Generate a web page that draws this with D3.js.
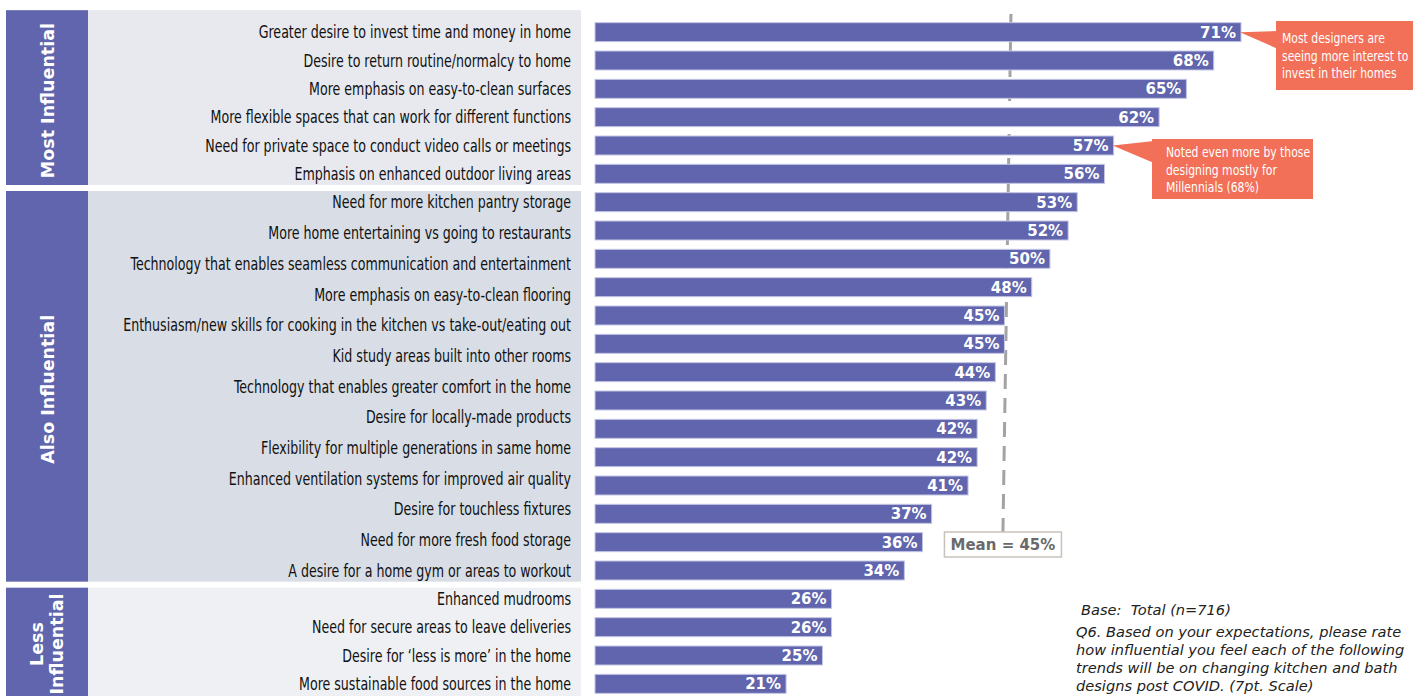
<!DOCTYPE html>
<html lang="en">
<head>
    <meta charset="UTF-8">
    <script src="https://cdn.jsdelivr.net/npm/d3@7"></script>
    <style>
        body { margin: 0; background: #fff; }
        svg { display: block; }
        .label { font-family: "DejaVu Sans", sans-serif; font-stretch: condensed; font-size: 18px; fill: #111; }
        .value { font-family: "DejaVu Sans", sans-serif; font-weight: bold; font-size: 15px; fill: #fff; }
        .group { font-family: "DejaVu Sans", sans-serif; font-weight: bold; font-size: 17.5px; fill: #fff; }
        .note { font-family: "DejaVu Sans", sans-serif; font-stretch: condensed; font-size: 14px; fill: #fff; }
        .foot { font-family: "DejaVu Sans", sans-serif; font-style: italic; font-size: 14.6px; fill: #222; white-space: pre; }
        .mean { font-family: "DejaVu Sans", sans-serif; font-weight: bold; font-size: 15px; fill: #6a6a6a; }
    </style>
</head>
<body>
<svg width="1413" height="696"></svg>
<script>
    // data
    var groupNames = ["Most Influential", "Also Influential", "Less Influential"];
    var mostLabels = [
        "Greater desire to invest time and money in home",
        "Desire to return routine/normalcy to home",
        "More emphasis on easy-to-clean surfaces",
        "More flexible spaces that can work for different functions",
        "Need for private space to conduct video calls or meetings",
        "Emphasis on enhanced outdoor living areas"
    ];
    var alsoLabels = [
        "Need for more kitchen pantry storage",
        "More home entertaining vs going to restaurants",
        "Technology that enables seamless communication and entertainment",
        "More emphasis on easy-to-clean flooring",
        "Enthusiasm/new skills for cooking in the kitchen vs take-out/eating out",
        "Kid study areas built into other rooms",
        "Technology that enables greater comfort in the home",
        "Desire for locally-made products",
        "Flexibility for multiple generations in same home",
        "Enhanced ventilation systems for improved air quality",
        "Desire for touchless fixtures",
        "Need for more fresh food storage",
        "A desire for a home gym or areas to workout"
    ];
    var lessLabels = [
        "Enhanced mudrooms",
        "Need for secure areas to leave deliveries",
        "Desire for \u2018less is more\u2019 in the home",
        "More sustainable food sources in the home"
    ];
    var mostValues = [71, 68, 65, 62, 57, 56];
    var alsoValues = [53, 52, 50, 48, 45, 45, 44, 43, 42, 42, 41, 37, 36, 34];
    var lessValues = [26, 26, 25, 21];
    var meanValue = 45;
    var note1 = ["Most designers are", "seeing more interest to", "invest in their homes"];
    var note2 = ["Noted even more by those", "designing mostly for", "Millennials (68%)"];
    var baseLine = "Base:  Total (n=716)";
    var footLines = [
        "Q6. Based on your expectations, please rate",
        "how influential you feel each of the following",
        "trends will be on changing kitchen and bath",
        "designs post COVID. (7pt. Scale)"
    ];

    var purple = "#6065ad";
    var coral = "#f26f58";
    var panelFill = ["#e7e9ef", "#d8dde6", "#eef0f4"];
    var narrow = 0.78;   // condensed face squeezed a bit more, like the original

    var svg = d3.select("svg");

    var labelSets = [mostLabels, alsoLabels, lessLabels];
    var valueSets = [mostValues, alsoValues, lessValues];
    var rows = [];
    valueSets.forEach(function (vals, g) {
        vals.forEach(function (v) { rows.push({g: g, v: v}); });
    });
    rows.forEach(function (d, i) { d.i = i; });

    var y = d3.scaleBand()
        .domain(d3.range(rows.length))
        .range([18, 698])
        .paddingInner(0.33)
        .paddingOuter(0.165);
    var x = d3.scaleLinear().domain([0, 71]).range([595, 1241]);
    var mid = function (i) { return y(i) + y.bandwidth() / 2; };

    // group extents
    var groups = groupNames.map(function (name, g) {
        var idx = rows.filter(function (d) { return d.g === g; }).map(function (d) { return d.i; });
        return {name: name, g: g, first: d3.min(idx), last: d3.max(idx)};
    });
    groups.forEach(function (gr, k) {
        gr.top = k === 0 ? y(gr.first) - 12.5 : (y(gr.first) + y(gr.first - 1) + y.bandwidth()) / 2 + 3;
        gr.bottom = k === groups.length - 1 ? 700 : (y(gr.last) + y.bandwidth() + y(gr.last + 1)) / 2 - 3;
    });

    // panels
    var panel = svg.selectAll(".panel").data(groups).enter().append("g");
    panel.append("rect")
        .attr("x", 88).attr("width", 493)
        .attr("y", function (d) { return d.top; })
        .attr("height", function (d) { return d.bottom - d.top; })
        .attr("fill", function (d) { return panelFill[d.g]; });
    panel.append("rect")
        .attr("x", 6).attr("width", 82)
        .attr("y", function (d) { return d.top; })
        .attr("height", function (d) { return d.bottom - d.top; })
        .attr("fill", purple);

    // group titles (rotated)
    panel.each(function (d) {
        var cy = (d.top + Math.min(d.bottom, 696)) / 2 + 3;
        var lines = d.g === 2 ? ["Less", "Influential"] : [d.name];
        var t = d3.select(this).append("text")
            .attr("class", "group")
            .attr("text-anchor", "middle")
            .attr("transform", "translate(" + (lines.length > 1 ? 37 : 48) + "," + (d.g === 2 ? 644 : cy) + ") rotate(-90)");
        lines.forEach(function (l, k) {
            t.append("tspan").attr("x", 0).attr("dy", k === 0 ? "0.36em" : "1.15em").text(l);
        });
    });

    // row labels spread between first and last bar of each group
    groups.forEach(function (gr) {
        var ly = d3.scalePoint().domain(d3.range(labelSets[gr.g].length)).range([mid(gr.first), mid(gr.last)]);
        svg.append("g").selectAll("text")
            .data(labelSets[gr.g])
            .enter().append("text")
            .attr("class", "label")
            .attr("text-anchor", "end")
            .attr("transform", function (d, i) { return "translate(571," + ly(i) + ") scale(" + narrow + ",1)"; })
            .attr("dy", "0.35em")
            .text(function (d) { return d; });
    });

    // mean line (behind bars)
    svg.append("line")
        .attr("x1", x(meanValue) + 6.5).attr("y1", 14)
        .attr("x2", x(meanValue) - 1.5).attr("y2", 532)
        .attr("stroke", "#a3a3a3")
        .attr("stroke-width", 3)
        .attr("stroke-dasharray", "15,9");

    // bars
    svg.append("g").selectAll("rect")
        .data(rows)
        .enter().append("rect")
        .attr("x", x(0))
        .attr("y", function (d) { return y(d.i); })
        .attr("width", function (d) { return x(d.v) - x(0); })
        .attr("height", y.bandwidth())
        .attr("fill", purple)
        .attr("stroke", "#c3c5e4")
        .attr("stroke-width", 1);

    svg.append("g").selectAll("text")
        .data(rows)
        .enter().append("text")
        .attr("class", "value")
        .attr("text-anchor", "end")
        .attr("x", function (d) { return x(d.v) - 5; })
        .attr("y", function (d) { return mid(d.i); })
        .attr("dy", "0.37em")
        .text(function (d) { return d.v + "%"; });

    // mean label
    var mb = svg.append("g");
    mb.append("rect")
        .attr("x", x(meanValue) - 60).attr("y", 532)
        .attr("width", 117).attr("height", 25)
        .attr("fill", "#fff").attr("stroke", "#c9c2ba").attr("stroke-width", 1.5);
    mb.append("text").attr("class", "mean")
        .attr("x", x(meanValue) - 1.5).attr("y", 550)
        .attr("text-anchor", "middle")
        .text("Mean = " + meanValue + "%");

    // callouts
    function callout(row, bx, by, bw, bh, p1, p2, lines, tx, ty) {
        var tipX = x(rows[row].v) - 1, tipY = mid(row);
        svg.append("polygon")
            .attr("points", [[tipX, tipY], [bx + 2, by + p1], [bx + 2, by + p2]].join(" "))
            .attr("fill", coral);
        svg.append("rect")
            .attr("x", bx).attr("y", by).attr("width", bw).attr("height", bh)
            .attr("fill", coral);
        lines.forEach(function (l, k) {
            svg.append("text").attr("class", "note")
                .attr("transform", "translate(" + tx + "," + (ty + k * 17.5) + ") scale(0.86,1)")
                .text(l);
        });
    }
    callout(0, 1276, 21, 140, 69, 10, 28, note1, 1282, 43);
    callout(4, 1152, 139, 161, 60, 2, 24, note2, 1166, 157);

    // footnote
    var ft = svg.append("g");
    ft.append("text").attr("class", "foot")
        .attr("x", 1081).attr("y", 615)
        .text(baseLine);
    ft.selectAll(".q").data(footLines).enter().append("text")
        .attr("class", "foot")
        .attr("x", 1076)
        .attr("y", function (d, i) { return 637 + i * 18; })
        .text(function (d) { return d; });
</script>
</body>
</html>
